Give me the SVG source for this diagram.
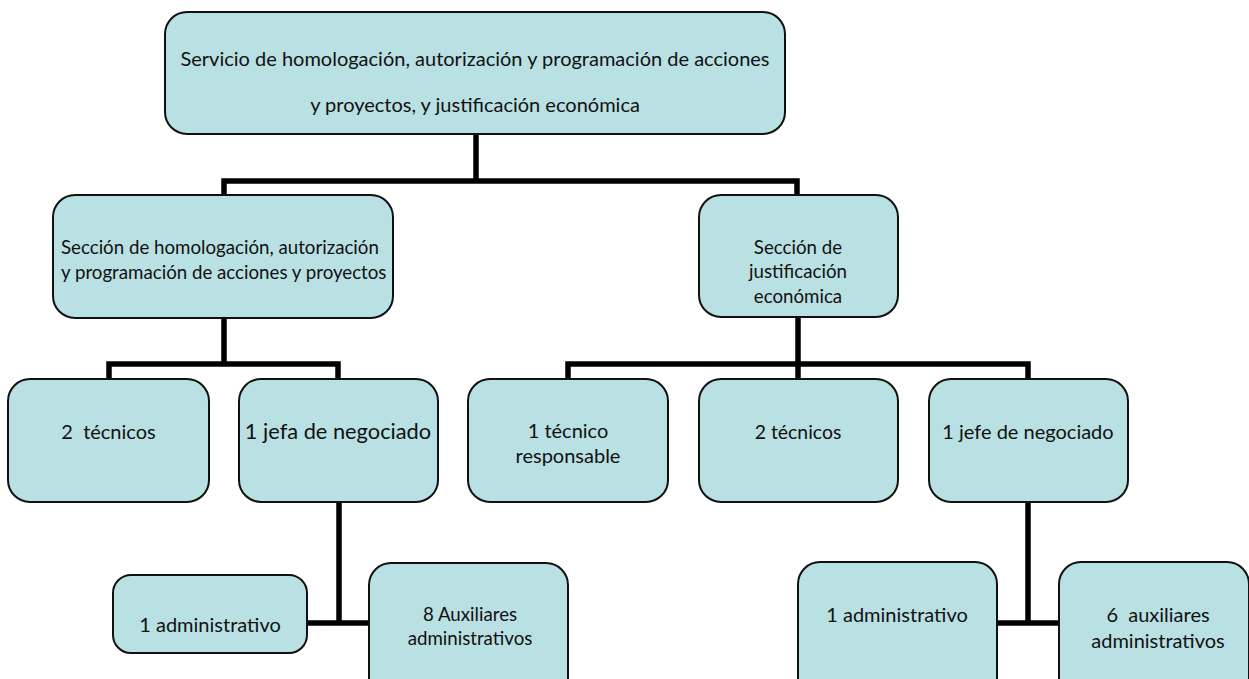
<svg xmlns="http://www.w3.org/2000/svg" width="1249" height="679" viewBox="0 0 1249 679">
<style>
.box{fill:#B9E0E3;stroke:#111;stroke-width:2}
.lbl{font-family:Lato,"Liberation Sans",sans-serif;font-size:20px;fill:#111;text-anchor:middle;white-space:pre}
.sm{font-size:18.7px}
.conn{fill:none;stroke:#000;stroke-width:5.5;stroke-linejoin:miter}
</style>
<rect width="1249" height="679" fill="#fff"/>
<g id="connectors">
<path class="conn" d="M476 134V181M224 195V181H797V195"/>
<path class="conn" d="M224 318V364M109 379V364H338V379"/>
<path class="conn" d="M798 317V379M568 379V364H1028V379"/>
<path class="conn" d="M339 502V623M307 623H369"/>
<path class="conn" d="M1028 502V623M997 623H1059"/>
</g>
<g id="n-servicio">
<rect class="box" x="165" y="12" width="620" height="122" rx="22"/>
<text class="lbl" x="475" y="66">Servicio de homologación, autorización y programación de acciones</text>
<text class="lbl" x="475" y="112">y proyectos, y justificación económica</text>
</g>
<g id="n-seccion-homologacion">
<rect class="box" x="53" y="195" width="340" height="123" rx="22"/>
<text class="lbl sm" x="61" y="254" style="text-anchor:start">Sección de homologación, autorización</text>
<text class="lbl sm" x="61" y="279" style="text-anchor:start">y programación de acciones y proyectos</text>
</g>
<g id="n-seccion-justificacion">
<rect class="box" x="699" y="195" width="199" height="122" rx="22"/>
<text class="lbl sm" x="798" y="254">Sección de</text>
<text class="lbl sm" x="798" y="278">justificación</text>
<text class="lbl sm" x="798" y="303">económica</text>
</g>
<g id="n-2tecnicos-a">
<rect class="box" x="8" y="379" width="201" height="123" rx="22"/>
<text class="lbl" x="108.5" y="439">2  técnicos</text>
</g>
<g id="n-jefa">
<rect class="box" x="239" y="379" width="199" height="123" rx="22"/>
<text class="lbl" x="338" y="439" style="font-size:21.8px">1 jefa de negociado</text>
</g>
<g id="n-tecnico-resp">
<rect class="box" x="468" y="379" width="200" height="123" rx="22"/>
<text class="lbl" x="568" y="438">1 técnico</text>
<text class="lbl" x="568" y="463">responsable</text>
</g>
<g id="n-2tecnicos-b">
<rect class="box" x="699" y="379" width="199" height="123" rx="22"/>
<text class="lbl" x="798" y="439" style="font-size:19.4px">2 técnicos</text>
</g>
<g id="n-jefe">
<rect class="box" x="929" y="379" width="199" height="123" rx="22"/>
<text class="lbl" x="1028" y="439">1 jefe de negociado</text>
</g>
<g id="n-admin-a">
<rect class="box" x="113" y="575" width="194" height="78" rx="18"/>
<text class="lbl" x="210" y="632">1 administrativo</text>
</g>
<g id="n-aux8">
<rect class="box" x="369" y="563" width="199" height="140" rx="22"/>
<text class="lbl sm" x="470" y="621">8 Auxiliares</text>
<text class="lbl sm" x="470" y="645">administrativos</text>
</g>
<g id="n-admin-b">
<rect class="box" x="798" y="562" width="199" height="140" rx="22"/>
<text class="lbl" x="897" y="622">1 administrativo</text>
</g>
<g id="n-aux6">
<rect class="box" x="1059" y="562" width="190" height="140" rx="22"/>
<text class="lbl" x="1158" y="622">6  auxiliares</text>
<text class="lbl" x="1158" y="648">administrativos</text>
</g>
</svg>
